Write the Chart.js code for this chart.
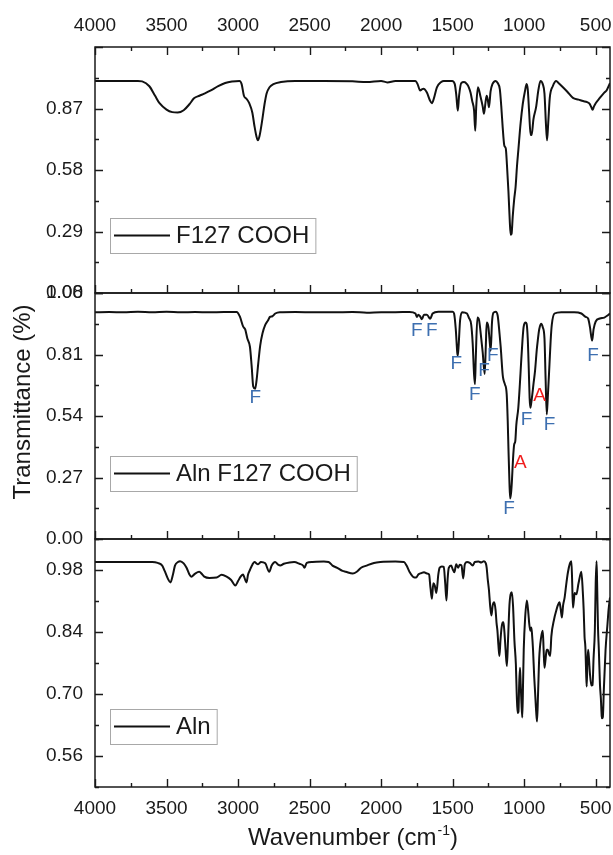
<!DOCTYPE html>
<html>
<head>
<meta charset="utf-8">
<script src="https://cdn.jsdelivr.net/npm/chart.js@4.4.1/dist/chart.umd.min.js"></script>
<style>
  html, body { margin: 0; padding: 0; background: #fff; }
  #wrap { position: relative; width: 613px; height: 855px; }
  #wrap canvas { position: absolute; left: 0; top: 0; }
</style>
</head>
<body>
<div id="wrap">
  <canvas id="c1" width="613" height="855"></canvas>
  <canvas id="c2" width="613" height="855"></canvas>
  <canvas id="c3" width="613" height="855"></canvas>
</div>
<script>
// ---------------- DATA ----------------
const seriesNames = ["F127 COOH", "Aln F127 COOH", "Aln"];

const wnF127 = [4000,3900,3800,3700,3670,3620,3580,3549,3500,3460,3422,3380,3340,3308,3270,3236,3190,3139,3090,3043,2990,2975,2959,2940,2922,2900,2886,2872,2861,2850,2830,2815,2801,2780,2753,2700,2600,2400,2200,2100,2000,1957,1900,1800,1760,1745,1727,1715,1704,1680,1660,1645,1630,1610,1580,1562,1504,1485,1474,1464,1455,1440,1420,1400,1387,1375,1363,1350,1342,1335,1323,1305,1290,1281,1270,1262,1254,1246,1235,1222,1199,1185,1170,1160,1150,1140,1135,1128,1120,1110,1100,1094,1088,1080,1070,1060,1050,1040,1025,1010,995,983,975,965,955,948,935,917,900,886,870,858,848,840,832,821,800,776,760,729,700,659,620,588,560,542,530,522,512,500,471,440,424,400];
const trF127 = [1.0,1.0,1.0,1.0,0.998,0.975,0.93,0.895,0.865,0.853,0.851,0.862,0.89,0.918,0.93,0.94,0.955,0.975,0.99,0.997,1.0,0.985,0.93,0.915,0.895,0.85,0.79,0.74,0.72,0.74,0.82,0.89,0.94,0.97,0.985,0.995,1.0,1.0,0.998,0.995,1.0,0.993,1.0,1.0,1.0,0.985,0.955,0.96,0.963,0.945,0.91,0.895,0.92,0.97,0.995,1.0,1.0,0.985,0.93,0.86,0.93,0.99,0.995,0.985,0.97,0.945,0.905,0.86,0.765,0.88,0.97,0.925,0.88,0.845,0.9,0.93,0.91,0.876,0.95,0.985,1.0,0.99,0.96,0.88,0.78,0.7,0.69,0.68,0.6,0.48,0.33,0.275,0.28,0.36,0.44,0.5,0.6,0.68,0.8,0.89,0.95,0.985,0.96,0.85,0.745,0.745,0.82,0.875,0.96,1.0,0.985,0.94,0.8,0.72,0.8,0.92,0.975,1.0,0.99,0.97,0.95,0.92,0.912,0.905,0.9,0.892,0.875,0.864,0.88,0.895,0.92,0.945,0.955,0.99];

const wnAlnF127 = [4000,3900,3800,3700,3600,3500,3400,3300,3200,3100,3010,2987,2964,2950,2935,2917,2905,2894,2880,2870,2859,2845,2829,2810,2790,2777,2760,2740,2708,2600,2400,2200,2100,2000,1900,1800,1760,1750,1740,1728,1715,1700,1680,1657,1640,1600,1500,1490,1478,1468,1464,1458,1448,1433,1400,1387,1370,1360,1350,1344,1338,1327,1315,1300,1290,1276,1268,1262,1250,1240,1234,1225,1215,1199,1185,1172,1164,1150,1145,1135,1122,1115,1110,1103,1098,1092,1086,1078,1070,1062,1055,1041,1030,1022,1012,1004,990,983,975,968,962,957,950,943,935,924,912,905,895,882,870,858,850,842,835,823,815,807,788,741,650,600,570,553,540,525,515,500,471,440,420,400];
const trAlnF127 = [0.995,0.997,0.995,0.998,0.996,0.998,0.995,0.997,0.995,0.997,0.997,0.976,0.932,0.92,0.88,0.844,0.76,0.67,0.66,0.7,0.77,0.85,0.903,0.94,0.96,0.975,0.978,0.99,0.996,0.997,0.995,0.997,0.993,0.996,0.996,0.997,0.99,0.975,0.985,0.978,0.965,0.985,0.985,0.967,0.99,0.998,0.998,0.99,0.92,0.82,0.805,0.85,0.96,0.996,0.99,0.972,0.94,0.86,0.72,0.68,0.8,0.972,0.96,0.88,0.82,0.724,0.85,0.95,0.93,0.86,0.827,0.95,0.993,0.998,0.98,0.9,0.842,0.72,0.7,0.68,0.635,0.52,0.4,0.25,0.178,0.2,0.251,0.35,0.414,0.43,0.5,0.576,0.68,0.768,0.87,0.93,0.95,0.945,0.88,0.75,0.62,0.576,0.6,0.635,0.68,0.738,0.83,0.871,0.92,0.945,0.93,0.88,0.7,0.547,0.62,0.768,0.87,0.94,0.99,0.996,0.996,0.99,0.975,0.968,0.93,0.871,0.92,0.955,0.968,0.972,0.98,0.99];

const wnAln = [4000,3900,3800,3700,3600,3562,3530,3513,3490,3473,3455,3441,3420,3405,3380,3360,3340,3327,3300,3272,3250,3236,3200,3150,3115,3080,3050,3019,3000,2982,2965,2958,2941,2930,2917,2900,2886,2860,2840,2810,2782,2765,2741,2720,2705,2680,2640,2608,2570,2545,2536,2520,2480,2400,2367,2340,2307,2270,2247,2198,2170,2140,2102,2050,2005,1900,1840,1822,1800,1774,1755,1740,1720,1700,1680,1665,1655,1645,1635,1625,1614,1600,1591,1575,1562,1552,1543,1535,1527,1510,1500,1488,1475,1462,1450,1438,1426,1415,1400,1380,1360,1345,1320,1300,1281,1268,1262,1255,1246,1238,1229,1220,1210,1200,1193,1187,1180,1173,1166,1158,1150,1145,1138,1130,1121,1113,1103,1095,1086,1078,1068,1058,1052,1046,1040,1035,1029,1024,1019,1013,1008,1003,993,981,970,965,957,950,945,938,930,924,916,910,903,895,882,870,864,858,850,843,835,826,818,810,790,776,765,753,744,736,728,717,705,694,680,670,665,659,653,647,635,620,600,590,584,578,572,567,563,558,553,547,540,530,522,515,506,500,494,490,484,478,470,464,458,455,450,443,431,417,410,400];
const trAln = [0.998,0.998,0.998,0.998,0.998,0.996,0.99,0.978,0.96,0.952,0.97,0.99,0.998,1.0,0.995,0.985,0.97,0.965,0.972,0.976,0.97,0.965,0.962,0.963,0.969,0.965,0.958,0.945,0.955,0.965,0.97,0.965,0.952,0.97,0.98,0.992,0.998,0.993,0.998,0.995,0.976,0.99,0.998,0.992,0.99,0.994,0.997,0.998,0.994,0.99,0.985,0.996,0.998,0.999,0.998,0.99,0.985,0.978,0.976,0.972,0.976,0.985,0.99,0.996,0.998,0.999,0.998,0.99,0.975,0.964,0.963,0.97,0.973,0.975,0.972,0.97,0.94,0.915,0.95,0.945,0.928,0.97,0.985,0.988,0.987,0.95,0.911,0.96,0.985,0.99,0.982,0.975,0.993,0.985,0.992,0.99,0.961,0.993,0.998,0.996,0.99,0.998,0.999,0.997,1.0,0.995,0.985,0.96,0.934,0.9,0.877,0.9,0.907,0.89,0.86,0.843,0.81,0.786,0.82,0.85,0.862,0.862,0.84,0.8,0.763,0.82,0.9,0.925,0.93,0.9,0.82,0.767,0.7,0.657,0.66,0.72,0.759,0.72,0.68,0.647,0.72,0.8,0.873,0.911,0.88,0.86,0.843,0.85,0.835,0.8,0.74,0.706,0.66,0.638,0.7,0.78,0.827,0.843,0.8,0.759,0.78,0.8,0.8,0.79,0.786,0.83,0.87,0.888,0.9,0.907,0.89,0.873,0.9,0.918,0.95,0.975,0.995,1.0,0.96,0.895,0.91,0.928,0.925,0.95,0.976,0.93,0.89,0.83,0.805,0.75,0.717,0.77,0.8,0.78,0.745,0.719,0.72,0.78,0.843,0.95,1.0,0.95,0.85,0.8,0.72,0.691,0.65,0.645,0.648,0.71,0.8,0.86,0.89,0.918];

// axis ticks
const xMajorTicks = [4000,3500,3000,2500,2000,1500,1000,500];
const xMinorTicks = [3750,3250,2750,2250,1750,1250,750];
const yTicksTop = [0, 0.29, 0.58, 0.87];
const yMinorTop = [0.145, 0.435, 0.725, 1.015];
const yTicksMid = [0, 0.27, 0.54, 0.81, 1.08];
const yMinorMid = [0.135, 0.405, 0.675, 0.945];
const yTicksBot = [0.56, 0.70, 0.84, 0.98];
const yMinorBot = [0.49, 0.63, 0.77, 0.91, 1.05];

// peak annotations in middle panel
const annWn   = [2880, 1750, 1646, 1474, 1345, 1281, 1219, 1105, 983, 823, 518, 1027, 893];
const annT    = [0.622, 0.916, 0.916, 0.768, 0.635, 0.738, 0.805, 0.133, 0.525, 0.503, 0.805, 0.333, 0.628];
const annText = ["F","F","F","F","F","F","F","F","F","F","F","A","A"];

const xTitleMain = "Wavenumber (cm";
const xTitleSup = "-1";
const yTitle = "Transmittance (%)";

// ---------------- STYLE ----------------
const FONT = "'Liberation Sans', Arial, Helvetica, sans-serif";
const INK = '#1a1a1a';
const annColor = { F: '#3d6fb0', A: '#f01e1e' };

const framePlugin = {
  id: 'frame',
  afterDatasetsDraw(chart, args, o) {
    const { ctx, chartArea: a, scales } = chart;
    const xs = scales.x, ys = scales.y;
    ctx.save();
    ctx.strokeStyle = INK;
    ctx.lineWidth = 1.4;
    ctx.beginPath();
    const xt = (list, len) => list.forEach(v => {
      const p = Math.round(xs.getPixelForValue(v)) + 0.5;
      if (o.top) { ctx.moveTo(p, a.top); ctx.lineTo(p, a.top + len); }
      if (o.bottom) { ctx.moveTo(p, a.bottom); ctx.lineTo(p, a.bottom - len); }
    });
    const yt = (list, len) => list.forEach(v => {
      if (v < ys.min - 1e-9 || v > ys.max + 1e-9) return;
      const p = Math.round(ys.getPixelForValue(v)) + 0.5;
      ctx.moveTo(a.left, p); ctx.lineTo(a.left + len, p);
      ctx.moveTo(a.right, p); ctx.lineTo(a.right - len, p);
    });
    xt(xMajorTicks, 8); xt(xMinorTicks, 4);
    yt(o.yMajor, 8); yt(o.yMinor, 4);
    ctx.stroke();
    ctx.lineWidth = 1.5;
    ctx.strokeRect(a.left, a.top, a.right - a.left, a.bottom - a.top);

    // legend box
    const ds = chart.data.datasets[0];
    ctx.font = '24px ' + FONT;
    const tw = ctx.measureText(ds.label).width;
    const lx = o.legend.left, ly = o.legend.top, h = 35;
    ctx.fillStyle = '#fff';
    ctx.fillRect(lx, ly, 72 + tw, h);
    ctx.strokeStyle = '#a8a8a8';
    ctx.lineWidth = 1;
    ctx.strokeRect(lx + 0.5, ly + 0.5, 72 + tw, h);
    ctx.strokeStyle = ds.borderColor;
    ctx.lineWidth = 2;
    ctx.beginPath();
    ctx.moveTo(lx + 4, ly + h / 2); ctx.lineTo(lx + 60, ly + h / 2);
    ctx.stroke();
    ctx.fillStyle = INK;
    ctx.textBaseline = 'middle';
    ctx.textAlign = 'left';
    ctx.fillText(ds.label, lx + 66, ly + h / 2 + 1);

    // annotations
    if (o.annotate) {
      ctx.font = '19px ' + FONT;
      ctx.textAlign = 'center';
      ctx.textBaseline = 'middle';
      annWn.forEach((w, i) => {
        ctx.fillStyle = annColor[annText[i]];
        ctx.fillText(annText[i], xs.getPixelForValue(w), ys.getPixelForValue(annT[i]));
      });
    }
    // titles
    if (o.yTitle) {
      ctx.save();
      ctx.translate(23, 402);
      ctx.rotate(-Math.PI / 2);
      ctx.font = '24px ' + FONT;
      ctx.fillStyle = INK;
      ctx.textAlign = 'center';
      ctx.textBaseline = 'middle';
      ctx.fillText(yTitle, 0, 0);
      ctx.restore();
    }
    if (o.xTitle) {
      ctx.fillStyle = INK;
      ctx.textBaseline = 'alphabetic';
      ctx.textAlign = 'left';
      ctx.font = '24px ' + FONT;
      const w1 = ctx.measureText(xTitleMain).width;
      const w3 = ctx.measureText(')').width;
      ctx.font = '14px ' + FONT;
      const w2 = ctx.measureText(xTitleSup).width;
      const cx = (a.left + a.right) / 2;
      let x0 = cx - (w1 + w2 + w3) / 2;
      const base = 845;
      ctx.font = '24px ' + FONT;
      ctx.fillText(xTitleMain, x0, base);
      ctx.font = '14px ' + FONT;
      ctx.fillText(xTitleSup, x0 + w1 + 1, base - 10);
      ctx.font = '24px ' + FONT;
      ctx.fillText(')', x0 + w1 + w2 + 1, base);
    }
    ctx.restore();
  }
};

function makeChart(id, label, wn, tr, cfg) {
  const xScale = {
    type: 'linear', min: 400, max: 4000, reverse: true,
    display: cfg.xBottomLabels ? true : false,
    grid: { display: false, drawTicks: false },
    border: { display: false },
    afterBuildTicks: s => { s.ticks = xMajorTicks.map(v => ({ value: v })); },
    afterFit: s => { s.height = cfg.xBottomLabels ? 68 : 0; s.paddingLeft = 0; s.paddingRight = 0; },
    ticks: { font: { family: FONT, size: 19 }, color: INK, padding: 10, maxRotation: 0, autoSkip: false,
             callback: v => String(v) }
  };
  const scales = {
    x: xScale,
    y: {
      type: 'linear', min: cfg.yMin, max: cfg.yMax, position: 'left',
      grid: { display: false, drawTicks: false },
      border: { display: false },
      afterBuildTicks: s => { s.ticks = cfg.yMajor.map(v => ({ value: v })); },
      afterFit: s => { s.width = 95; s.paddingTop = 0; s.paddingBottom = 0; },
      ticks: { font: { family: FONT, size: 19 }, color: INK, padding: 12,
               callback: v => Number(v).toFixed(2) }
    }
  };
  if (cfg.xTopLabels) {
    scales.xTop = {
      type: 'linear', min: 400, max: 4000, reverse: true, position: 'top',
      grid: { display: false, drawTicks: false },
      border: { display: false },
      afterBuildTicks: s => { s.ticks = xMajorTicks.map(v => ({ value: v })); },
      afterFit: s => { s.height = 47; s.paddingLeft = 0; s.paddingRight = 0; },
      ticks: { font: { family: FONT, size: 19 }, color: INK, padding: 10, maxRotation: 0, autoSkip: false,
               callback: v => String(v) }
    };
  }
  return new Chart(document.getElementById(id), {
    type: 'line',
    data: {
      datasets: [{
        label: label,
        data: wn.map((w, i) => ({ x: w, y: tr[i] })),
        borderColor: '#111',
        borderWidth: 2,
        pointRadius: 0,
        cubicInterpolationMode: 'monotone',
        fill: false
      }]
    },
    options: {
      responsive: false,
      animation: false,
      events: [],
      layout: { padding: cfg.padding },
      scales: scales,
      plugins: {
        legend: { display: false },
        tooltip: { enabled: false },
        frame: {
          top: !!cfg.xTopLabels, bottom: true,
          yMajor: cfg.yMajorAll, yMinor: cfg.yMinor,
          legend: cfg.legend, annotate: !!cfg.annotate,
          yTitle: !!cfg.yTitle, xTitle: !!cfg.xBottomLabels
        }
      }
    },
    plugins: [framePlugin]
  });
}

makeChart('c1', seriesNames[0], wnF127, trF127, {
  yMin: 0, yMax: 1.16, yMajor: yTicksTop, yMajorAll: yTicksTop.concat([1.16]), yMinor: yMinorTop,
  xTopLabels: true, padding: { top: 0, bottom: 855 - 293, left: 0, right: 3 },
  legend: { left: 110, top: 218 }
});
makeChart('c2', seriesNames[1], wnAlnF127, trAlnF127, {
  yMin: 0, yMax: 1.08, yMajor: yTicksMid, yMajorAll: yTicksMid, yMinor: yMinorMid,
  padding: { top: 293, bottom: 855 - 539, left: 0, right: 3 },
  legend: { left: 110, top: 456 }, annotate: true, yTitle: true
});
makeChart('c3', seriesNames[2], wnAln, trAln, {
  yMin: 0.49, yMax: 1.05, yMajor: yTicksBot, yMajorAll: yTicksBot, yMinor: yMinorBot,
  xBottomLabels: true, padding: { top: 539, bottom: 0, left: 0, right: 3 },
  legend: { left: 110, top: 709 }
});
</script>
</body>
</html>
